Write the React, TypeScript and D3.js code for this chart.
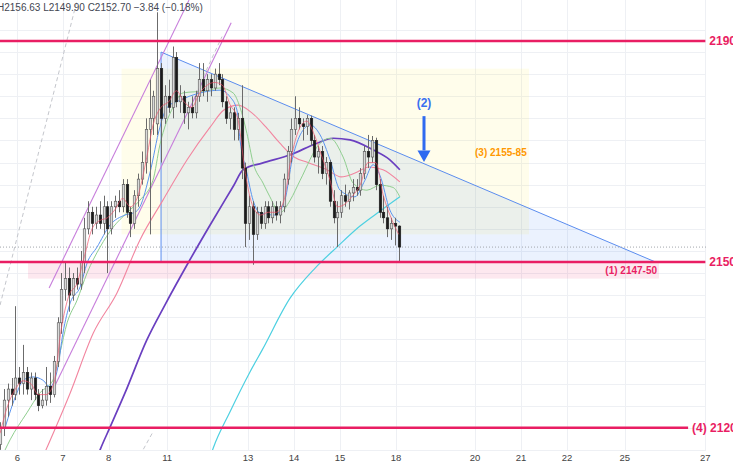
import React from "react";
import * as d3 from "d3";

const W = 733;
const H = 465;
const PANE_R = 706;
const PANE_B = 450;

// OHLC candles (bar index = position in array)
const candles: [number, number, number, number][] = [
  [2117, 2121, 2116, 2120], [2120, 2127, 2118.5, 2125], [2125, 2128, 2122, 2127], [2127, 2129, 2124, 2126],
  [2126, 2142, 2125, 2129], [2129, 2131, 2126, 2128], [2128, 2135, 2126, 2130], [2130, 2131, 2126, 2127],
  [2127, 2130, 2125, 2129], [2129, 2130, 2125, 2126], [2126, 2127, 2123, 2124], [2124, 2127, 2123.5, 2125],
  [2125, 2131, 2124, 2127.5], [2127.5, 2130, 2124.5, 2126], [2126, 2133, 2125.5, 2132], [2132, 2140, 2131, 2139],
  [2139, 2148, 2137, 2145], [2145, 2150, 2143, 2147], [2147, 2149, 2141, 2144], [2144, 2148, 2143, 2147],
  [2147, 2149, 2145, 2146], [2146, 2152, 2145, 2150], [2150, 2158, 2148, 2156], [2156, 2161, 2155, 2159],
  [2159, 2160, 2155, 2157], [2157, 2160, 2156, 2158.5], [2158.5, 2161, 2156, 2157], [2157, 2162, 2155, 2160],
  [2160, 2161, 2148, 2156], [2156, 2161, 2155, 2160], [2160, 2162, 2158, 2161], [2161, 2163, 2159, 2160],
  [2160, 2165, 2159, 2164], [2164, 2165, 2158, 2159], [2159, 2160, 2154.5, 2157], [2157, 2163, 2156, 2162],
  [2162, 2166, 2160, 2165], [2165, 2170, 2164, 2168], [2168, 2176, 2166, 2174], [2174, 2183, 2155, 2176],
  [2176, 2181, 2173, 2180], [2175, 2195.2, 2173, 2185], [2185, 2186, 2168, 2176], [2176, 2182, 2175, 2180],
  [2180, 2183, 2177, 2178], [2178, 2189, 2176, 2187], [2187, 2188, 2178, 2179], [2179, 2182, 2177, 2180],
  [2180, 2181, 2175, 2177], [2177, 2179, 2174, 2178], [2178, 2180, 2176, 2177], [2177, 2181, 2176, 2180],
  [2180, 2186, 2179, 2183], [2183, 2186, 2180, 2181], [2181, 2184, 2179, 2183], [2183, 2184, 2180, 2181.5],
  [2181.5, 2185, 2181, 2184], [2184, 2186, 2182, 2183], [2183, 2184, 2178, 2179], [2179, 2180, 2175, 2176],
  [2176, 2178, 2174, 2177], [2177, 2178, 2172, 2174], [2174, 2177, 2172, 2176], [2176, 2182, 2165, 2167],
  [2167, 2168, 2152.7, 2157], [2157, 2162, 2154, 2160], [2160, 2161, 2149.5, 2155], [2155, 2160, 2154, 2159],
  [2159, 2160, 2156, 2157], [2157, 2161, 2156, 2160], [2160, 2161, 2157, 2158], [2158, 2161, 2157, 2160],
  [2160, 2161, 2157.5, 2158.5], [2158.5, 2161, 2157, 2160], [2160, 2166, 2159, 2165], [2165, 2171, 2164, 2170],
  [2170, 2176, 2168, 2174], [2174, 2180, 2173, 2176], [2176, 2178, 2174, 2175], [2175, 2176, 2172, 2174.5],
  [2174.5, 2176.6, 2173, 2176], [2176, 2176.5, 2171, 2172], [2172, 2173, 2168, 2169], [2169, 2171, 2166, 2170],
  [2170, 2171, 2165, 2166], [2166, 2169, 2164, 2168], [2168, 2168.5, 2160, 2161], [2161, 2163, 2157, 2158],
  [2158, 2161, 2152.7, 2159], [2159, 2163, 2158, 2162], [2162, 2164, 2160, 2161], [2161, 2163, 2159.5, 2162.5],
  [2162.5, 2165, 2161, 2163.5], [2163.5, 2165, 2162, 2163], [2163, 2167, 2162, 2166], [2166, 2171, 2165, 2170],
  [2170, 2173, 2167, 2169], [2169, 2172.8, 2168, 2172], [2172, 2172.5, 2163, 2164], [2164, 2165, 2158, 2159],
  [2159, 2162, 2157, 2158], [2158, 2160, 2154.5, 2156], [2156, 2158, 2154, 2157], [2157, 2158, 2153, 2156.5],
  [2156.5, 2156.63, 2149.9, 2152.7],
];

// moving averages: [bar index, price]
const maRed: [number, number][] = [
  [0, 2119], [2, 2124], [4, 2127], [6, 2128.5], [8, 2128], [10, 2126], [12, 2126], [14, 2128], [16, 2138],
  [18, 2144], [20, 2146], [22, 2151], [24, 2156], [26, 2157.5], [28, 2158], [30, 2159.5], [32, 2161.5],
  [34, 2160], [36, 2162], [38, 2168], [40, 2175], [42, 2178], [44, 2179], [46, 2181], [48, 2179], [50, 2178],
  [52, 2180.5], [54, 2182], [56, 2182.5], [58, 2182], [60, 2178.5], [62, 2176], [64, 2166], [66, 2160],
  [68, 2158.5], [70, 2159], [72, 2159], [74, 2161], [76, 2169], [78, 2174], [80, 2175.5], [82, 2173],
  [84, 2169], [86, 2165], [88, 2160], [90, 2160.5], [92, 2162], [94, 2164], [96, 2168], [98, 2168],
  [100, 2162], [102, 2158], [104, 2155],
];
const maBlue: [number, number][] = [
  [1.3, 2120], [4.4, 2126.3], [6, 2128.6], [8.6, 2129.2], [11.2, 2128.6], [13, 2127.4], [15.1, 2131],
  [16.4, 2137.1], [18.3, 2142.6], [20.9, 2145.5], [22.7, 2149.8], [25.3, 2152.7], [28.7, 2156.7],
  [32.6, 2158.5], [35.2, 2159], [36.5, 2160], [39.1, 2166.1], [41.7, 2174.4], [43.6, 2178], [47, 2179.3],
  [52.2, 2180.6], [57.4, 2181.1], [60, 2179.9], [61.8, 2177.5], [62.6, 2172.1], [64.4, 2166.1], [66, 2161.2],
  [67.8, 2158.9], [71.7, 2158.5], [74.3, 2161.2], [76.2, 2168.5], [78.3, 2173], [80.9, 2174.8], [83.5, 2173],
  [86.1, 2168.5], [88.7, 2163], [92.6, 2161.8], [95.2, 2164.8], [97.3, 2167.6], [99.1, 2165.7],
  [101.7, 2159.4], [104.3, 2157.2],
];
const maGreen: [number, number][] = [
  [0, 2114], [2.6, 2117.8], [7, 2122.7], [10.4, 2126.3], [13.8, 2128.6], [15.6, 2133.5], [17.5, 2139],
  [20.1, 2143.1], [22.7, 2148], [26.1, 2152.7], [29.5, 2156.3], [33.1, 2158.9], [36.5, 2161.2],
  [39.9, 2164.8], [41.7, 2171.2], [45.1, 2178], [47.7, 2180.6], [54, 2181], [57.4, 2181.5], [60.8, 2180.6],
  [62.6, 2178], [64.4, 2173.3], [66, 2168], [68.6, 2164.3], [70.4, 2161.8], [73, 2158.9], [75.7, 2161.2],
  [78.3, 2164.8], [83.5, 2171.5], [86.1, 2172.4], [89.5, 2169], [92.1, 2164.3], [95.7, 2163], [99.1, 2163.9],
  [102.5, 2163.5], [104.3, 2161.8],
];
const maSalmon: [number, number][] = [
  [10.4, 2113.5], [12.3, 2116.5], [18.3, 2126.3], [24.3, 2137.1], [30.5, 2144.4], [36.5, 2154],
  [42.5, 2161.2], [48.8, 2168.5], [54.8, 2174.4], [58.4, 2177.5], [62.1, 2178.4], [65.7, 2177],
  [69.4, 2174.4], [73, 2171.5], [76.7, 2169], [80.3, 2168], [85.3, 2166.7], [89, 2165.4], [92.6, 2166.1],
  [96.3, 2167.2], [99.9, 2166.7], [104.3, 2164.5],
];
const maPurple: [number, number][] = [
  [24, 2112], [26.1, 2116], [28.7, 2120.1], [32.6, 2126.3], [38.3, 2135.9], [43, 2142.2], [48.8, 2149.5],
  [54.8, 2156.7], [61, 2163.9], [63.4, 2166.7], [68.4, 2167.9], [75.7, 2169.4], [82.7, 2171.5],
  [86.9, 2172.4], [91.3, 2172.1], [97.3, 2170.3], [101.7, 2168.5], [104.3, 2166.7],
];
const maCyan: [number, number][] = [
  [54, 2113], [55.6, 2116.3], [60, 2122.9], [65.2, 2130.1], [68.4, 2134.1], [75.7, 2143.5], [82.2, 2148.9],
  [87.9, 2152.7], [93.9, 2156.5], [99.1, 2159.2], [104.3, 2161.8],
];

// x-axis
const tickLabels = ["6", "7", "8", "11", "13", "14", "15", "18", "20", "21", "22", "25", "27"];
const tickBars = [4.5, 16.4, 28.3, 43.6, 64.7, 76.7, 88.7, 103.3, 123.9, 135.9, 147.9, 163.0, 184.0];
const minorGridBars = [54.8];

// drawings
const levelPrices = [2190, 2150, 2120];
const levelLabels = ["2190", "2150", "(4) 2120"];
const levelEndBars = [184, 184, 179.5];
const yellowZone = { b0: 31.7, b1: 138, p0: 2155, p1: 2185 };
const pinkZone = { b0: 7.3, b1: 171.9, p0: 2147, p1: 2150 };
const triangle: [number, number][] = [[42, 2188], [42, 2150], [171, 2150]];
const violetLines: [number, number, number, number][] = [
  [12.8, 2145.3, 49.3, 2197.4],
  [14.3, 2127.6, 60.3, 2193.3],
];
const dashedLines: [number, number, number, number][] = [
  [0, 2142.2, 20.1, 2197.4],
  [36.5, 2115, 39.7, 2119],
  [53, 2183.5, 57.9, 2190.8],
];
const lastClose = 2152.7;
const header = "H2156.63 L2149.90 C2152.70 \u22123.84 (\u22120.18%)";

const x = d3.scaleLinear().domain([0, 104]).range([0.05, 398.7]);
const y = d3.scaleLinear().domain([2120, 2190]).range([427.75, 41]);

export default function App() {
  const line = d3
    .line<[number, number]>()
    .x((d) => x(d[0]))
    .y((d) => y(d[1]))
    .curve(d3.curveMonotoneX);
  const gridPrices = d3.range(2116, 2196, 4);
  const font = "'Liberation Sans', Arial, sans-serif";
  const red = "#e91e63";
  const ax = x(110.6);

  return (
    <svg width={W} height={H} style={{ display: "block", position: "absolute", left: 0, top: 0, background: "#fff" }}>
      <defs>
        <clipPath id="pane">
          <rect x={0} y={0} width={PANE_R} height={PANE_B} />
        </clipPath>
      </defs>
      <rect x={0} y={0} width={W} height={H} fill="#fff" />
      {/* grid */}
      <g stroke="#eef0f4" strokeWidth={1}>
        {gridPrices.map((p) => (
          <line key={"h" + p} x1={0} x2={PANE_R} y1={Math.round(y(p)) + 0.5} y2={Math.round(y(p)) + 0.5} />
        ))}
        {[...tickBars, ...minorGridBars].map((b) => (
          <line key={"v" + b} x1={Math.round(x(b)) + 0.5} x2={Math.round(x(b)) + 0.5} y1={0} y2={PANE_B} />
        ))}
      </g>
      <g clipPath="url(#pane)">
        {/* zones */}
        <rect
          x={x(yellowZone.b0)}
          width={x(yellowZone.b1) - x(yellowZone.b0)}
          y={y(yellowZone.p1)}
          height={y(yellowZone.p0) - y(yellowZone.p1)}
          fill="rgba(255,235,59,0.1)"
        />
        <rect
          x={x(pinkZone.b0)}
          width={x(pinkZone.b1) - x(pinkZone.b0)}
          y={y(pinkZone.p1)}
          height={y(pinkZone.p0) - y(pinkZone.p1)}
          fill="rgba(233,30,99,0.1)"
        />
        <polygon
          points={triangle.map((d) => `${x(d[0])},${y(d[1])}`).join(" ")}
          fill="rgba(33,110,243,0.09)"
          stroke="#5b8def"
          strokeWidth={1}
        />
        {/* last price dotted */}
        <line x1={0} x2={W} y1={y(lastClose)} y2={y(lastClose)} stroke="#a3a6ad" strokeWidth={1} strokeDasharray="1,2" />
        {/* dashed and violet channel lines */}
        {dashedLines.map((d, i) => (
          <line key={"d" + i} x1={x(d[0])} y1={y(d[1])} x2={x(d[2])} y2={y(d[3])} stroke="#c4c6cc" strokeWidth={1} strokeDasharray="4,3" />
        ))}
        {violetLines.map((d, i) => (
          <line key={"vl" + i} x1={x(d[0])} y1={y(d[1])} x2={x(d[2])} y2={y(d[3])} stroke="#c77ddb" strokeWidth={1.1} />
        ))}
        {/* moving averages */}
        <path d={line(maCyan) || ""} fill="none" stroke="#4dd0e1" strokeWidth={1.2} />
        <path d={line(maPurple) || ""} fill="none" stroke="#6a3fc0" strokeWidth={1.7} />
        <path d={line(maSalmon) || ""} fill="none" stroke="#f2859f" strokeWidth={1.1} />
        <path d={line(maGreen) || ""} fill="none" stroke="#8fce8f" strokeWidth={1} />
        <path d={line(maBlue) || ""} fill="none" stroke="#5b95f0" strokeWidth={1} />
        {/* candles */}
        {candles.map((c, i) => {
          const [o, h, l, cl] = c;
          const cx = Math.round(x(i)) + 0.5;
          const up = cl >= o;
          const top = y(Math.max(o, cl));
          const bot = y(Math.min(o, cl));
          return (
            <g key={"c" + i}>
              <line x1={cx} x2={cx} y1={y(h)} y2={y(l)} stroke="#6b6b6b" strokeWidth={1} />
              <rect
                x={cx - 1.25}
                width={2.5}
                y={top}
                height={Math.max(1, bot - top)}
                fill={up ? "#d9d9d9" : "#1b1b1b"}
                stroke={up ? "#555" : "#1b1b1b"}
                strokeWidth={0.6}
              />
            </g>
          );
        })}
        <path d={line(maRed) || ""} fill="none" stroke="#f0506a" strokeWidth={0.8} opacity={0.85} />
      </g>
      {/* horizontal levels */}
      {levelPrices.map((p, i) => (
        <g key={"lv" + p}>
          <line x1={0} x2={x(levelEndBars[i])} y1={y(p)} y2={y(p)} stroke={red} strokeWidth={2.5} />
          <text
            x={x(levelEndBars[i]) + 4}
            y={y(p)}
            dy="0.36em"
            fill={red}
            fontFamily={font}
            fontWeight={700}
            fontSize={12}
          >
            {levelLabels[i]}
          </text>
        </g>
      ))}
      {/* annotations */}
      <text x={ax} y={y(2178.8)} dy="0.36em" textAnchor="middle" fill="#3a6ff0" fontFamily={font} fontWeight={700} fontSize={12}>
        (2)
      </text>
      <rect x={ax - 1.5} y={y(2176.4)} width={3} height={y(2170.2) - y(2176.4)} fill="#2f6af0" />
      <polygon points={`${ax - 6.5},${y(2170.2)} ${ax + 6.5},${y(2170.2)} ${ax},${y(2168.1)}`} fill="#2f6af0" />
      <text x={x(137.4)} y={y(2169.9)} dy="0.36em" textAnchor="end" fill="#ff9800" fontFamily={font} fontWeight={700} fontSize={10}>
        (3) 2155-85
      </text>
      <text x={x(171.4)} y={y(2148.5)} dy="0.36em" textAnchor="end" fill={red} fontFamily={font} fontWeight={700} fontSize={10}>
        (1) 2147-50
      </text>
      {/* header */}
      <text x={-3} y={11} fill="#434651" fontFamily={font} fontSize={10}>
        {header}
      </text>
      {/* x axis labels */}
      {tickLabels.map((t, i) => (
        <text key={"t" + t} x={x(tickBars[i])} y={461} textAnchor="middle" fill="#444" fontFamily={font} fontSize={9.5}>
          {t}
        </text>
      ))}
    </svg>
  );
}
